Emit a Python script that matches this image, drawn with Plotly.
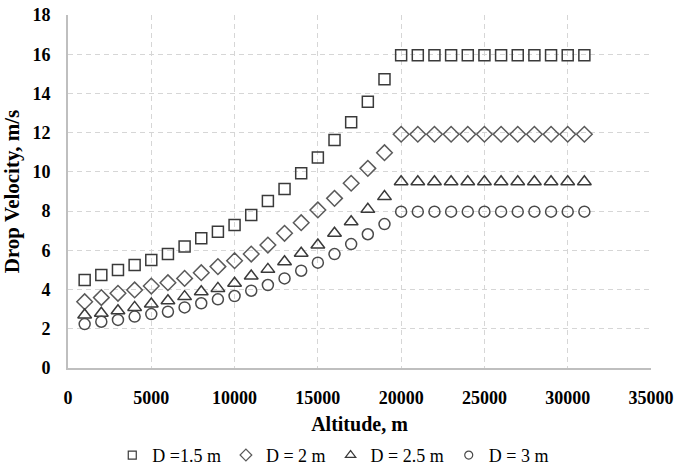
import plotly.graph_objects as go

altitude = [1000, 2000, 3000, 4000, 5000, 6000, 7000, 8000, 9000, 10000,
            11000, 12000, 13000, 14000, 15000, 16000, 17000, 18000, 19000,
            20000, 21000, 22000, 23000, 24000, 25000, 26000, 27000, 28000,
            29000, 30000, 31000]

v_d15 = [4.49, 4.74, 5.00, 5.25, 5.51, 5.81, 6.19, 6.61, 6.95, 7.29,
         7.80, 8.52, 9.13, 9.93, 10.74, 11.63, 12.53, 13.58, 14.72] + [15.95] * 12
v_d20 = [3.38, 3.59, 3.81, 3.98, 4.18, 4.35, 4.57, 4.86, 5.17, 5.47,
         5.81, 6.27, 6.87, 7.41, 8.06, 8.65, 9.42, 10.18, 10.98] + [11.92] * 12
v_d25 = [2.70, 2.79, 2.92, 3.09, 3.26, 3.43, 3.64, 3.89, 4.06, 4.32,
         4.69, 5.03, 5.42, 5.85, 6.27, 6.87, 7.46, 8.09, 8.74] + [9.50] * 12
v_d30 = [2.24, 2.36, 2.45, 2.62, 2.75, 2.87, 3.09, 3.30, 3.50, 3.67,
         3.94, 4.23, 4.57, 4.96, 5.37, 5.81, 6.32, 6.82, 7.34] + [7.97] * 12

series_names = ["D =1.5 m", "D = 2 m", "D = 2.5 m", "D = 3 m"]
series_values = [v_d15, v_d20, v_d25, v_d30]
symbols = ["square-open", "diamond-open", "triangle-up-open", "circle-open"]
colors = ["#3a3a3a", "#5a5a5a", "#3a3a3a", "#4a4a4a"]
sizes = [11, 12, 12, 11]
legend_sizes = [8, 9, 9, 8]

x_ticks = [0, 5000, 10000, 15000, 20000, 25000, 30000, 35000]
y_ticks = [0, 2, 4, 6, 8, 10, 12, 14, 16, 18]

fig = go.Figure()
for name, vals, sym, col, sz in zip(series_names, series_values, symbols, colors, sizes):
    fig.add_trace(go.Scatter(
        x=altitude, y=vals, mode="markers", name=name, showlegend=False,
        legendgroup=name,
        marker=dict(symbol=sym, size=sz, color=col, line=dict(width=1.5, color=col)),
    ))
# legend entries with the smaller legend symbols of the reference
for name, sym, col, lsz in zip(series_names, symbols, colors, legend_sizes):
    fig.add_trace(go.Scatter(
        x=[None], y=[None], mode="markers", name=name, showlegend=True,
        legendgroup=name,
        marker=dict(symbol=sym, size=lsz, color=col, line=dict(width=1.2, color=col)),
    ))

font_serif = "Liberation Serif, Times New Roman, serif"

fig.update_layout(
    width=676, height=468,
    margin=dict(l=68, r=25, t=15, b=100, autoexpand=False),
    paper_bgcolor="white", plot_bgcolor="white",
    font=dict(family=font_serif, color="#000000"),
    showlegend=True,
    legend=dict(orientation="h", x=0.455, xanchor="center", y=-0.195, yanchor="top",
                font=dict(family=font_serif, size=18, color="#000000"),
                itemsizing="trace", itemwidth=30, tracegroupgap=0,
                bgcolor="rgba(0,0,0,0)"),
    xaxis=dict(
        range=[0, 35000], tickvals=x_ticks, ticktext=[str(t) for t in x_ticks],
        showgrid=True, gridcolor="#d6d6d6", griddash="5px,4px", gridwidth=1,
        showline=True, linecolor="#bfbfbf", linewidth=2, mirror=False,
        ticks="", zeroline=False, automargin=False, ticklabelstandoff=12,
        tickfont=dict(family=font_serif, size=18, color="#000000", weight="bold"),
        title=dict(text="<b>Altitude, m</b>", font=dict(family=font_serif, size=20), standoff=10),
    ),
    yaxis=dict(
        range=[0, 18], tickvals=y_ticks, ticktext=[str(t) for t in y_ticks],
        showgrid=True, gridcolor="#d6d6d6", griddash="5px,4px", gridwidth=1,
        showline=True, linecolor="#bfbfbf", linewidth=2, mirror=False,
        ticks="", zeroline=False, automargin=False, ticklabelstandoff=12,
        tickfont=dict(family=font_serif, size=18, color="#000000", weight="bold"),
        title=dict(text="<b>Drop Velocity, m/s</b>", font=dict(family=font_serif, size=21), standoff=8),
    ),
)

fig.write_html("out.html", config={"displayModeBar": False},
               post_script="document.body.style.margin='0';document.body.style.overflow='hidden';")
